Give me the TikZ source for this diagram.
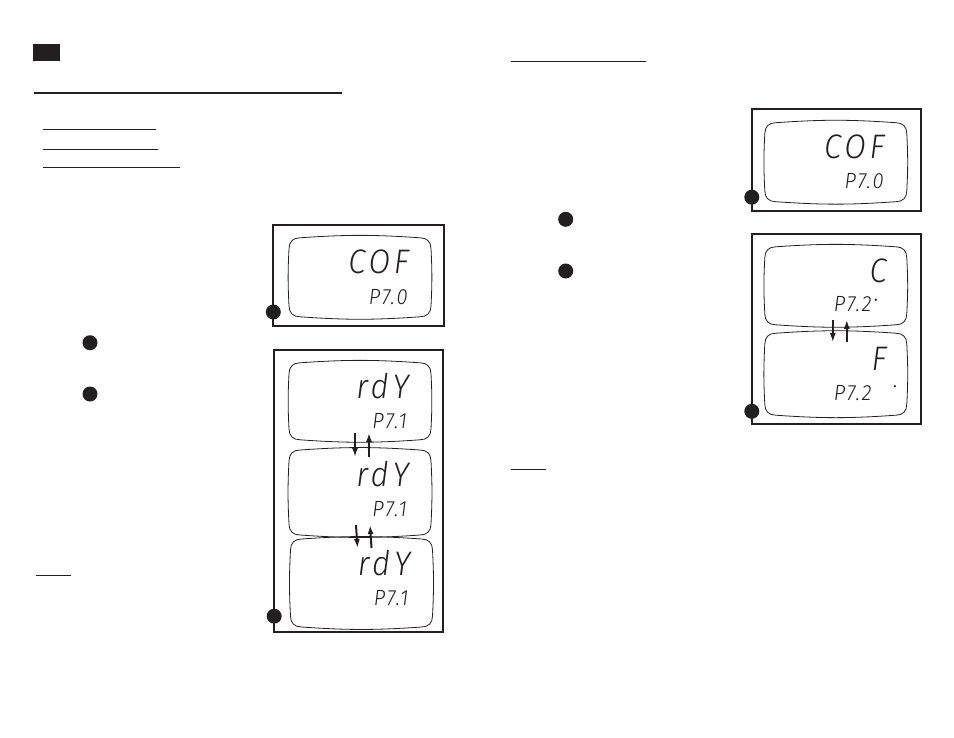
\documentclass[tikz,border=0pt]{standalone}
\usepackage{fontspec}
\usepackage{xcolor}
\usetikzlibrary{arrows.meta}

\newfontfamily\lcdfont{Fira Sans}[ItalicFont={* Light Italic}]
\definecolor{ink}{HTML}{231F20}

% rounded, slightly bulging window of a display
\newcommand{\lcdoutline}[1]{%
  \draw[lcdline]
    ([yshift=-11pt]#1.north west) .. controls ([yshift=-4pt]#1.north west) and ([xshift=4pt]#1.north west) .. ([xshift=11pt]#1.north west)
    to[bend left=4] ([xshift=-11pt]#1.north east)
    .. controls ([xshift=-4pt]#1.north east) and ([yshift=-4pt]#1.north east) .. ([yshift=-11pt]#1.north east)
    to[bend left=3] ([yshift=11pt]#1.south east)
    .. controls ([yshift=4pt]#1.south east) and ([xshift=-4pt]#1.south east) .. ([xshift=-11pt]#1.south east)
    to[bend left=4] ([xshift=11pt]#1.south west)
    .. controls ([xshift=4pt]#1.south west) and ([yshift=4pt]#1.south west) .. ([yshift=11pt]#1.south west)
    to[bend left=3] cycle;}

\begin{document}
\begin{tikzpicture}[
    x=1pt, y=1pt,
    panel/.style={draw=ink, line width=2pt, inner sep=0pt, outer sep=0pt},
    lcd/.style={inner sep=0pt, outer sep=0pt, minimum width=142pt},
    lcdline/.style={draw=ink, line width=0.8pt},
    dotmark/.style={circle, fill=ink, inner sep=0pt, minimum size=15pt},
    segdot/.style={circle, fill=ink, inner sep=0pt, minimum size=2.6pt},
    bigdigit/.style={anchor=base east, inner sep=0pt, text=ink, xscale=0.92,
        font=\lcdfont\itshape\fontsize{34}{34}\selectfont\addfontfeatures{LetterSpace=12}},
    smalldigit/.style={anchor=base east, inner sep=0pt, text=ink, xscale=0.92,
        font=\lcdfont\itshape\fontsize{22}{22}\selectfont\addfontfeatures{LetterSpace=10}},
    swaparrow/.style={draw=ink, line width=2pt, -{Latex[length=9pt, width=6pt]}},
    rule/.style={draw=ink, line width=1pt}
]
\useasboundingbox (0,0) rectangle (954,-737);

% heading marks
\node[fill=ink, inner sep=0pt, minimum width=27pt, minimum height=17pt] (tab) at (46.5,-52.5) {};
\draw[rule, line width=1.3pt] (34,-93) -- (342,-93);
\draw[rule] (43,-129.3) -- (156,-129.3);
\draw[rule] (43,-149) -- (158,-149);
\draw[rule] (43,-167.7) -- (180,-167.7);
\draw[rule] (511,-61.3) -- (646,-61.3);
\draw[rule] (36,-575.3) -- (71,-575.3);
\draw[rule] (511,-469.3) -- (546,-469.3);

% step bullets
\node[dotmark] (stepA1) at (90,-342.7) {};
\node[dotmark] (stepA2) at (90,-394) {};
\node[dotmark] (stepC1) at (565.7,-219.3) {};
\node[dotmark] (stepC2) at (565.7,-271) {};

% left top panel
\node[panel, minimum width=171pt, minimum height=101pt] (panelA) at (358.8,-275.5) {};
\node[lcd, minimum height=79pt] (lcdA) at (360,-277.3) {};
\lcdoutline{lcdA}
\node[bigdigit] (cofA) at ([xshift=-22pt, yshift=-36pt]lcdA.north east) {COF};
\node[smalldigit] (ptA) at ([xshift=-23pt, yshift=-67pt]lcdA.north east) {P7.0};
\node[dotmark] (dotA) at ([yshift=14pt]panelA.south west) {};

% left bottom panel
\node[panel, minimum width=169pt, minimum height=282pt] (panelB) at (358.7,-491.2) {};
\node[lcd, minimum height=77pt] (lcdB1) at (360,-401.3) {};
\node[lcd, minimum height=85pt] (lcdB2) at (360,-492.5) {};
\node[lcd, minimum height=88pt] (lcdB3) at (361.5,-583) {};
\lcdoutline{lcdB1}
\lcdoutline{lcdB2}
\lcdoutline{lcdB3}
\node[bigdigit] (rdyB1) at ([xshift=-22pt, yshift=-36pt]lcdB1.north east) {rdY};
\node[smalldigit] (ptB1) at ([xshift=-24pt, yshift=-66pt]lcdB1.north east) {P7.1};
\node[bigdigit] (rdyB2) at ([xshift=-22pt, yshift=-36pt]lcdB2.north east) {rdY};
\node[smalldigit] (ptB2) at ([xshift=-24pt, yshift=-66pt]lcdB2.north east) {P7.1};
\node[bigdigit] (rdyB3) at ([xshift=-22pt, yshift=-36pt]lcdB3.north east) {rdY};
\node[smalldigit] (ptB3) at ([xshift=-24pt, yshift=-66pt]lcdB3.north east) {P7.1};
\draw[swaparrow] ([xshift=-5pt, yshift=7pt]lcdB1.south) -- ([xshift=-5pt, yshift=-7pt]lcdB2.north);
\draw[swaparrow] ([xshift=9pt, yshift=-7pt]lcdB2.north) -- ([xshift=9pt, yshift=7pt]lcdB1.south);
\draw[swaparrow] ([xshift=-4pt, yshift=10pt]lcdB2.south) -- ([xshift=-4pt, yshift=-9pt]lcdB3.north);
\draw[swaparrow] ([xshift=10pt, yshift=-9pt]lcdB3.north) -- ([xshift=10pt, yshift=10pt]lcdB2.south);
\node[dotmark] (dotB) at ([yshift=16pt]panelB.south west) {};

% right top panel
\node[panel, minimum width=169pt, minimum height=102pt] (panelC) at (836.3,-160.2) {};
\node[lcd, minimum height=79pt] (lcdC) at (835.8,-162.2) {};
\lcdoutline{lcdC}
\node[bigdigit] (cofC) at ([xshift=-22pt, yshift=-36pt]lcdC.north east) {COF};
\node[smalldigit] (ptC) at ([xshift=-23pt, yshift=-66pt]lcdC.north east) {P7.0};
\node[dotmark] (dotC) at ([yshift=14pt]panelC.south west) {};

% right bottom panel
\node[panel, minimum width=169pt, minimum height=190pt] (panelD) at (836.3,-329.3) {};
\node[lcd, minimum height=78pt] (lcdD1) at (835.8,-285.8) {};
\node[lcd, minimum height=82pt] (lcdD2) at (835.8,-374.2) {};
\lcdoutline{lcdD1}
\lcdoutline{lcdD2}
\node[bigdigit] (unitC) at ([xshift=-20pt, yshift=-36pt]lcdD1.north east) {C};
\node[smalldigit] (ptD1) at ([xshift=-35pt, yshift=-65pt]lcdD1.north east) {P7.2};
\node[segdot] (degD1) at ([xshift=-31pt, yshift=-53pt]lcdD1.north east) {};
\node[bigdigit] (unitF) at ([xshift=-20pt, yshift=-37pt]lcdD2.north east) {F};
\node[smalldigit] (ptD2) at ([xshift=-35pt, yshift=-67pt]lcdD2.north east) {P7.2};
\node[segdot] (degD2) at ([xshift=-12pt, yshift=-53pt]lcdD2.north east) {};
\draw[swaparrow] ([xshift=-3pt, yshift=5pt]lcdD1.south) -- ([xshift=-3pt, yshift=-9pt]lcdD2.north);
\draw[swaparrow] ([xshift=11pt, yshift=-9pt]lcdD2.north) -- ([xshift=11pt, yshift=5pt]lcdD1.south);
\node[dotmark] (dotD) at ([yshift=13pt]panelD.south west) {};

\end{tikzpicture}
\end{document}
